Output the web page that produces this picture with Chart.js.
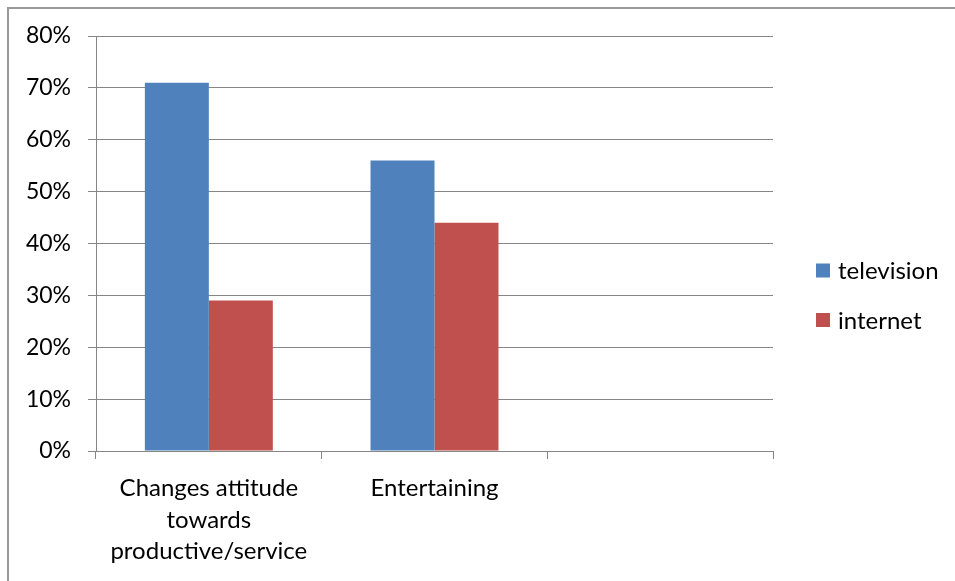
<!DOCTYPE html>
<html>
<head>
<meta charset="utf-8">
<script src="https://cdn.jsdelivr.net/npm/chart.js@4/dist/chart.umd.min.js"></script>
<style>
  html, body { margin: 0; padding: 0; background: #fff; }
  #wrap { position: relative; width: 955px; height: 581px; overflow: hidden; }
  #frame { position: absolute; left: 7px; top: 7px; width: 1000px; height: 700px;
           border-left: 2px solid #9a9a9a; border-top: 2px solid #9a9a9a; }
  canvas { position: absolute; left: 0; top: 0; }
</style>
</head>
<body>
<div id="wrap">
  <div id="frame"></div>
  <canvas id="chart" width="955" height="581"></canvas>
</div>
<script>
var categories = [
  ['Changes attitude', 'towards', 'productive/service'],
  'Entertaining',
  ''
];
var television = [0.71, 0.56, null];
var internet   = [0.29, 0.44, null];

var FONT = 'Lato, "Open Sans", sans-serif';

// legend drawn at the right, two stacked entries
var sideLegend = {
  id: 'sideLegend',
  afterDraw: function(chart) {
    var ctx = chart.ctx;
    var rows = [270.5, 320];
    ctx.save();
    ctx.font = '24px ' + FONT;
    ctx.textBaseline = 'middle';
    chart.data.datasets.forEach(function(ds, i) {
      ctx.fillStyle = ds.backgroundColor;
      ctx.fillRect(816, rows[i] - 7, 14, 14);
      ctx.fillStyle = '#000';
      ctx.fillText(ds.label, 838, rows[i] + 1);
    });
    ctx.restore();
  }
};

new Chart(document.getElementById('chart'), {
  type: 'bar',
  data: {
    labels: categories,
    datasets: [
      { label: 'television', data: television, backgroundColor: '#4F81BD',
        categoryPercentage: 0.567, barPercentage: 1.0 },
      { label: 'internet', data: internet, backgroundColor: '#C0504D',
        categoryPercentage: 0.567, barPercentage: 1.0 }
    ]
  },
  options: {
    responsive: false,
    animation: false,
    layout: { padding: { top: 36, right: 182, left: 0, bottom: 0 } },
    plugins: {
      legend: { display: false },
      tooltip: { enabled: false }
    },
    scales: {
      x: {
        afterFit: function(scale) { scale.height = 130; },
        grid: { offset: true, drawOnChartArea: false, drawTicks: true,
                tickLength: 8, color: '#868686' },
        border: { color: '#868686', width: 1 },
        ticks: { color: '#000', font: { family: FONT, size: 24, lineHeight: 1.3 },
                 padding: 14, maxRotation: 0, autoSkip: false }
      },
      y: {
        min: 0,
        max: 0.8,
        afterFit: function(scale) { scale.width = 96; },
        grid: { color: '#868686', tickLength: 8 },
        border: { color: '#868686', width: 1 },
        ticks: {
          stepSize: 0.1,
          padding: 17,
          color: '#000',
          font: { family: FONT, size: 23 },
          callback: function(v) { return Math.round(v * 100) + '%'; }
        }
      }
    }
  },
  plugins: [sideLegend]
});
</script>
</body>
</html>
